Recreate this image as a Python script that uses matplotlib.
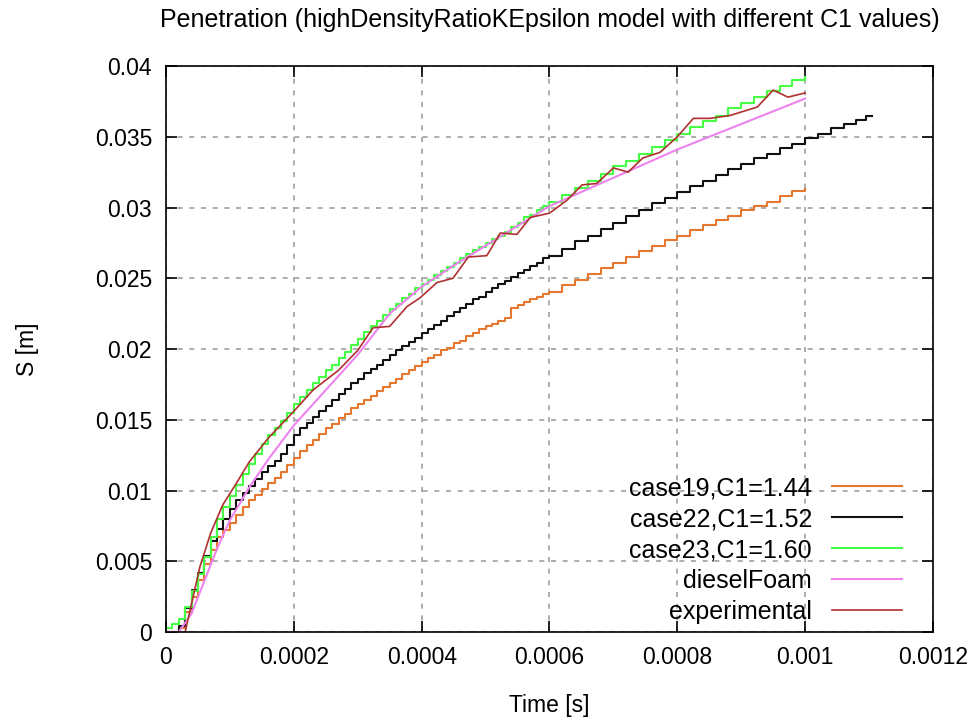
import numpy as np
import matplotlib
matplotlib.use("Agg")
import matplotlib.pyplot as plt

plt.rcParams['font.family'] = ['Liberation Sans', 'DejaVu Sans']

# output times of the simulations [s]: fine up to 0.6 ms, coarser afterwards
t_fine = np.arange(0, 61) * 1e-5
t_coarse = 6e-4 + np.arange(1, 21) * 2e-5
t_sim = np.concatenate([t_fine, t_coarse])
t_c22 = np.concatenate([t_sim, [1.02e-3, 1.04e-3, 1.06e-3, 1.08e-3, 1.095e-3, 1.105e-3]])

# penetration [mm]
s_c19 = [0.0, 0.0, 0.3, 1.4, 2.5, 3.7, 4.8, 5.8, 6.7, 7.2,
         7.7, 8.3, 8.8, 9.3, 9.7, 10.1, 10.5, 10.9, 11.3, 11.8,
         12.3, 12.8, 13.2, 13.6, 14.0, 14.4, 14.7, 15.1, 15.4, 15.8,
         16.1, 16.4, 16.7, 17.0, 17.3, 17.6, 17.9, 18.2, 18.5, 18.8,
         19.1, 19.4, 19.6, 19.9, 20.1, 20.4, 20.6, 20.9, 21.1, 21.4,
         21.6, 21.8, 22.0, 22.2, 22.9, 23.1, 23.3, 23.5, 23.7, 23.9,
         24.0,
         24.5, 24.9, 25.3, 25.7, 26.1, 26.5, 26.9, 27.3, 27.7, 28.0,
         28.4, 28.8, 29.1, 29.4, 29.8, 30.1, 30.4, 30.8, 31.2, 31.3]
s_c22 = [0.0, 0.0, 0.4, 1.7, 3.0, 4.2, 5.4, 6.4, 7.3, 8.0,
         8.7, 9.3, 9.8, 10.3, 10.8, 11.3, 11.7, 12.1, 12.6, 13.2,
         13.9, 14.4, 14.8, 15.2, 15.6, 16.0, 16.4, 16.8, 17.2, 17.6,
         17.9, 18.3, 18.6, 18.9, 19.2, 19.6, 19.9, 20.2, 20.5, 20.8,
         21.1, 21.4, 21.7, 22.0, 22.3, 22.6, 22.9, 23.2, 23.5, 23.7,
         24.0, 24.3, 24.6, 24.8, 25.1, 25.4, 25.6, 25.9, 26.1, 26.4,
         26.6,
         27.1, 27.6, 28.0, 28.5, 28.9, 29.4, 29.8, 30.3, 30.7, 31.1,
         31.5, 31.9, 32.3, 32.7, 33.1, 33.5, 33.8, 34.2, 34.5, 34.9,
         35.2, 35.6, 35.9, 36.2, 36.5, 36.5]
s_c23 = [0.3, 0.6, 0.9, 1.8, 2.9, 4.1, 5.3, 6.7, 8.0, 8.8,
         9.6, 10.4, 11.2, 11.9, 12.6, 13.3, 13.9, 14.4, 14.9, 15.5,
         16.1, 16.6, 17.1, 17.6, 18.0, 18.5, 18.9, 19.4, 19.8, 20.3,
         20.7, 21.2, 21.6, 22.0, 22.4, 22.8, 23.2, 23.6, 23.9, 24.3,
         24.6, 24.9, 25.2, 25.5, 25.8, 26.1, 26.4, 26.7, 27.0, 27.2,
         27.5, 27.8, 28.0, 28.3, 28.6, 28.9, 29.3, 29.5, 29.8, 30.1,
         30.4,
         30.9, 31.4, 31.9, 32.4, 32.9, 33.3, 33.8, 34.3, 34.8, 35.2,
         35.7, 36.1, 36.5, 37.0, 37.4, 37.8, 38.2, 38.6, 39.0, 39.2]

t_foam = [0, 2e-5, 4e-5, 6e-5, 8e-5, 1e-4, 1.3e-4, 1.6e-4, 2e-4, 2.5e-4,
          3e-4, 3.5e-4, 4e-4, 4.5e-4, 5e-4, 5.5e-4, 6e-4, 7e-4, 8e-4,
          9e-4, 1e-3]
s_foam = [0.0, 0.0, 1.3, 3.6, 5.9, 7.9, 10.2, 12.2, 14.6, 17.1,
          19.6, 22.5, 24.4, 25.9, 27.3, 28.7, 30.1, 32.1, 34.1,
          35.9, 37.7]

t_exp = [3e-5, 5.3e-5, 7e-5, 8.9e-5, 1.1e-4, 1.3e-4, 1.6e-4, 2e-4, 2.3e-4,
         2.7e-4, 3e-4, 3.24e-4, 3.5e-4, 3.77e-4, 3.97e-4, 4.24e-4, 4.49e-4,
         4.73e-4, 5.02e-4, 5.23e-4, 5.49e-4, 5.7e-4, 6e-4, 6.27e-4, 6.51e-4,
         6.74e-4, 7e-4, 7.23e-4, 7.46e-4, 7.73e-4, 8e-4, 8.25e-4, 8.51e-4,
         8.82e-4, 9.25e-4, 9.5e-4, 9.73e-4, 1e-3]
s_exp = [0.0, 4.6, 7.0, 9.0, 10.5, 12.0, 13.7, 15.6, 17.1,
         18.5, 19.9, 21.5, 21.6, 23.0, 23.6, 24.7, 25.0,
         26.5, 26.6, 28.2, 28.1, 29.3, 29.6, 30.5, 31.6,
         31.7, 32.8, 32.5, 33.5, 33.9, 35.0, 36.3, 36.3,
         36.5, 37.1, 38.3, 37.8, 38.1]

mm = 1e-3

fig = plt.figure(figsize=(9.74, 7.2), dpi=100)
ax = fig.add_axes([0.1704, 0.1222, 0.7875, 0.7861])

ax.plot(t_sim, np.array(s_c19) * mm, drawstyle='steps-post', color='#e6772e', lw=1.5,
        label='case19,C1=1.44')
ax.plot(t_c22, np.array(s_c22) * mm, drawstyle='steps-post', color='#111111', lw=1.5,
        label='case22,C1=1.52')
ax.plot(t_sim, np.array(s_c23) * mm, drawstyle='steps-post', color='#44ff44', lw=1.5,
        label='case23,C1=1.60')
ax.plot(t_foam, np.array(s_foam) * mm, color='#ee82ee', lw=1.5, label='dieselFoam')
ax.plot(t_exp, np.array(s_exp) * mm, color='#b03030', lw=1.2, label='experimental')

ax.set_xlim(0, 0.0012)
ax.set_ylim(0, 0.04)
ax.set_xticks(np.arange(0, 0.00121, 0.0002))
ax.set_xticklabels(['0', '0.0002', '0.0004', '0.0006', '0.0008', '0.001', '0.0012'])
ax.set_yticks(np.arange(0, 0.0401, 0.005))
ax.set_yticklabels(['0', '0.005', '0.01', '0.015', '0.02', '0.025', '0.03', '0.035', '0.04'])

ax.grid(True, color='#a0a0a0', linestyle=(0, (3, 4)), lw=1.2)
ax.tick_params(direction='in', length=8, width=1.2, top=True, right=True,
               labelsize=16.5, colors='black', pad=10)
for sp in ax.spines.values():
    sp.set_linewidth(1.2)

ax.set_title('Penetration (highDensityRatioKEpsilon model with different C1 values)',
             fontsize=18, pad=28)
ax.set_xlabel('Time [s]', fontsize=16.5, labelpad=18)
ax.set_ylabel('S [m]', fontsize=16.5, labelpad=40)

ax.legend(loc='lower right', bbox_to_anchor=(0.9596, 0.014), frameon=False,
          markerfirst=False, fontsize=18, handlelength=2.8, handletextpad=0.8,
          labelspacing=0.28, borderpad=0, borderaxespad=0)

fig.savefig('out.png', dpi=100)
